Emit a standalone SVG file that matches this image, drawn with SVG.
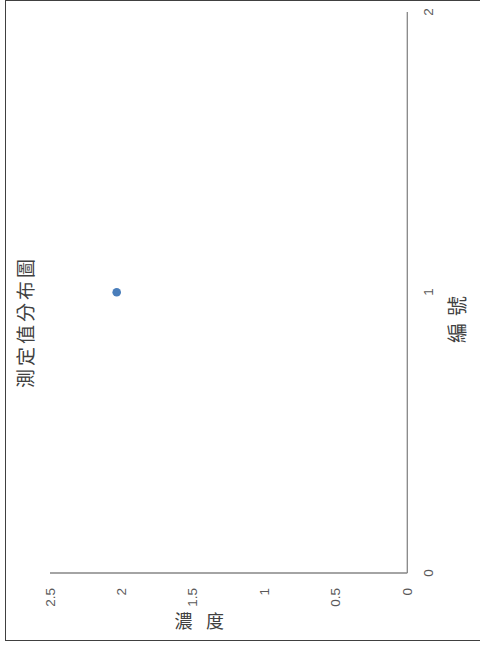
<svg xmlns="http://www.w3.org/2000/svg" width="480" height="646" viewBox="0 0 480 646">
<style>
.lbl{font-family:"Liberation Sans","DejaVu Sans",sans-serif;font-size:13.5px;fill:#595959;dominant-baseline:central}
.cjk{font-family:"Noto Sans CJK TC","Noto Sans CJK SC",sans-serif;fill:#404040;dominant-baseline:central}
.axis{stroke:#868686;stroke-width:1.3;fill:none}
</style>
<rect width="480" height="646" fill="#ffffff"/>
<rect id="chart-border" x="5.5" y="0.5" width="480" height="640" fill="none" stroke="#404040" stroke-width="1"/>
<g id="axes">
<line class="axis" x1="407.3" y1="12" x2="407.3" y2="573"/>
<line class="axis" x1="50" y1="573" x2="407.3" y2="573"/>
</g>
<g id="value-labels">
<text class="lbl" text-anchor="end" transform="translate(50,588) rotate(-90)">2.5</text>
<text class="lbl" text-anchor="end" transform="translate(121.4,588) rotate(-90)">2</text>
<text class="lbl" text-anchor="end" transform="translate(192.8,588) rotate(-90)">1.5</text>
<text class="lbl" text-anchor="end" transform="translate(264.2,588) rotate(-90)">1</text>
<text class="lbl" text-anchor="end" transform="translate(335.6,588) rotate(-90)">0.5</text>
<text class="lbl" text-anchor="end" transform="translate(407,588) rotate(-90)">0</text>
</g>
<g id="category-labels">
<text class="lbl" text-anchor="middle" transform="translate(428,573) rotate(-90)">0</text>
<text class="lbl" text-anchor="middle" transform="translate(428,292) rotate(-90)">1</text>
<text class="lbl" text-anchor="middle" transform="translate(428,12) rotate(-90)">2</text>
</g>
<g id="title">
<text class="cjk" font-size="19" text-anchor="middle" textLength="129" lengthAdjust="spacing" transform="translate(24.5,323.5) rotate(-90)">測定值分布圖</text>
</g>
<g id="x-axis-title">
<text class="cjk" font-size="20" text-anchor="middle" textLength="47" lengthAdjust="spacing" transform="translate(456.5,319.5) rotate(-90)">編號</text>
</g>
<g id="y-axis-title">
<text class="cjk" font-size="18" text-anchor="middle" x="183.5" y="620">濃</text>
<text class="cjk" font-size="18" text-anchor="middle" x="215" y="620">度</text>
</g>
<g id="series">
<circle id="point-1" cx="116.7" cy="292.3" r="4.3" fill="#4a7ebb"/>
</g>
</svg>
